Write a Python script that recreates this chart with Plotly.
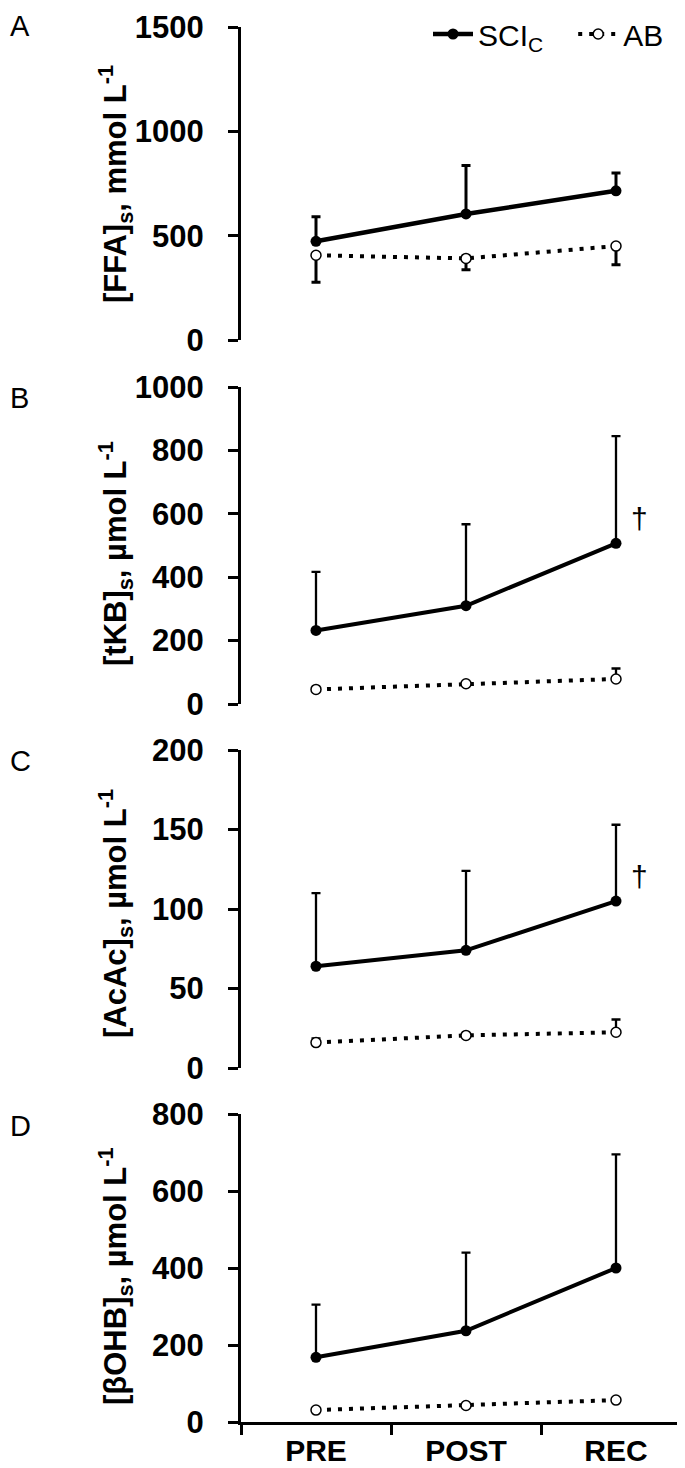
import plotly.graph_objects as go

# ---------------- data ----------------
categories = ["PRE", "POST", "REC"]

ffa_sci = [473, 604, 715]
ffa_sci_err_plus = [118, 232, 85]
ffa_ab = [406, 391, 450]
ffa_ab_err_minus = [129, 54, 89]
ffa_ab_err_plus = [0, 0, 0]

tkb_sci = [232, 310, 507]
tkb_sci_err_plus = [185, 257, 338]
tkb_ab = [46, 64, 79]
tkb_ab_err_minus = [0, 0, 0]
tkb_ab_err_plus = [0, 0, 33]

acac_sci = [64, 74, 105]
acac_sci_err_plus = [46, 50, 48]
acac_ab = [16, 20.5, 22.5]
acac_ab_err_minus = [0, 0, 0]
acac_ab_err_plus = [2.6, 0, 8]

bohb_sci = [168, 237, 400]
bohb_sci_err_plus = [137, 203, 295]
bohb_ab = [31, 43, 57]
bohb_ab_err_minus = [0, 0, 0]
bohb_ab_err_plus = [0, 0, 0]

series_names = ["SCI<sub>C</sub>" + "\u00a0" * 3, "AB"]
panel_letters = ["A", "B", "C", "D"]
y_titles = [
    "[FFA]<sub>s</sub>, mmol L<sup>-1</sup>",
    "[tKB]<sub>s</sub>, µmol L<sup>-1</sup>",
    "[AcAc]<sub>s</sub>, µmol L<sup>-1</sup>",
    "[βOHB]<sub>s</sub>, µmol L<sup>-1</sup>",
]
y_ranges = [[0, 1500], [0, 1000], [0, 200], [0, 800]]
y_dticks = [500, 200, 50, 200]
dagger_panels = [False, True, True, False]

panels = [
    (ffa_sci, ffa_sci_err_plus, ffa_ab, ffa_ab_err_minus, ffa_ab_err_plus),
    (tkb_sci, tkb_sci_err_plus, tkb_ab, tkb_ab_err_minus, tkb_ab_err_plus),
    (acac_sci, acac_sci_err_plus, acac_ab, acac_ab_err_minus, acac_ab_err_plus),
    (bohb_sci, bohb_sci_err_plus, bohb_ab, bohb_ab_err_minus, bohb_ab_err_plus),
]

# ---------------- layout geometry (pixels) ----------------
W, H = 685, 1468
ML, MR, MT, MB = 233, 2, 14, 54
plot_h = H - MT - MB
panel_px = [(19, 332), (379, 696), (742, 1060), (1106, 1414)]  # top, bottom
letter_px = [18, 390, 753, 1118]
title_center_px = [176, 545, 905, 1268]


def py(p):
    return (H - MB - p) / plot_h


def px(p):
    return (p - ML) / (W - ML - MR)


FONT = "Liberation Sans, Arial, sans-serif"

fig = go.Figure()
layout = dict(
    width=W, height=H,
    margin=dict(l=ML, r=MR, t=MT, b=MB, autoexpand=False),
    paper_bgcolor="white", plot_bgcolor="white",
    font=dict(family=FONT, color="black"),
    showlegend=True,
    legend=dict(orientation="h", x=px(420), xanchor="left", y=py(26), yanchor="middle",
                font=dict(size=30, family=FONT, color="black"),
                itemwidth=40, tracegroupgap=0,
                bgcolor="rgba(0,0,0,0)", traceorder="normal"),
)
annotations = []

for i, (sci, sci_ep, ab, ab_em, ab_ep) in enumerate(panels):
    k = "" if i == 0 else str(i + 1)
    xa, ya = "x" + k, "y" + k
    lw = 4.5 if i == 0 else 4
    ew = 3 if i == 0 else 2.3
    fig.add_trace(go.Scatter(
        x=categories, y=sci, xaxis=xa, yaxis=ya,
        mode="lines+markers", name=series_names[0], showlegend=(i == 0),
        line=dict(color="black", width=lw),
        marker=dict(symbol="circle", size=11, color="black"),
        error_y=dict(type="data", symmetric=False, array=sci_ep,
                     arrayminus=[0, 0, 0], color="black", thickness=ew, width=4.5),
    ))
    fig.add_trace(go.Scatter(
        x=categories, y=ab, xaxis=xa, yaxis=ya,
        mode="lines+markers", name=series_names[1], showlegend=(i == 0),
        line=dict(color="black", width=4, dash="4px,7px"),
        marker=dict(symbol="circle", size=10, color="white",
                    line=dict(color="black", width=1.5)),
        error_y=dict(type="data", symmetric=False, array=ab_ep,
                     arrayminus=ab_em, color="black", thickness=ew, width=4.5),
    ))
    top, bot = panel_px[i]
    dom = [py(bot), py(top)]
    last = (i == 3)
    layout["xaxis" + k] = dict(
        type="category", categoryorder="array", categoryarray=categories,
        range=[-0.5, 2.5], domain=[0, 1], anchor=ya,
        visible=last, showline=last, linecolor="black", linewidth=3,
        ticks="outside" if last else "", tickson="boundaries",
        ticklen=10, tickwidth=3, tickcolor="black",
        tickfont=dict(size=30, family=FONT, color="black", weight="bold"),
        ticklabelstandoff=0, ticklabeloverflow="allow",
        showgrid=False, zeroline=False, fixedrange=True,
    )
    layout["yaxis" + k] = dict(
        range=y_ranges[i], dtick=y_dticks[i], tick0=0, domain=dom, anchor=xa,
        showline=True, linecolor="black", linewidth=3,
        ticks="outside", ticklen=10, tickwidth=3, tickcolor="black",
        tickfont=dict(size=31, family=FONT, color="black", weight="bold"),
        ticklabelstandoff=18, ticklabeloverflow="allow",
        showgrid=False, zeroline=False, fixedrange=True,
    )
    annotations.append(dict(
        text=panel_letters[i], xref="paper", yref="paper",
        x=px(0), y=py(letter_px[i]), xanchor="left", yanchor="middle",
        showarrow=False, font=dict(size=29, family=FONT, color="black"),
    ))
    annotations.append(dict(
        text=y_titles[i], xref="paper", yref="paper",
        x=px(107), y=py(title_center_px[i]), xanchor="center", yanchor="middle",
        textangle=-90, showarrow=False,
        font=dict(size=31, family=FONT, color="black", weight="bold"),
    ))
    if dagger_panels[i]:
        annotations.append(dict(
            text="†", xref=xa, yref=ya, x="REC", y=sci[2],
            xshift=23, yshift=25, showarrow=False,
            font=dict(size=30, family=FONT, color="black"),
        ))

layout["annotations"] = annotations
fig.update_layout(**layout)
fig.write_html("out.html")
